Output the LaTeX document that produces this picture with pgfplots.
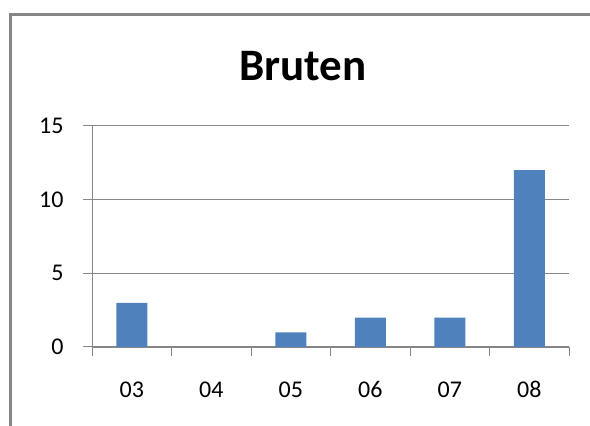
\documentclass[border=0pt]{standalone}
\usepackage{fontspec}
\setmainfont{Carlito}
\usepackage{pgfplots}
\pgfplotsset{compat=1.18}
\definecolor{barblue}{HTML}{4F81BD}
\definecolor{axgray}{HTML}{868686}
\begin{document}
\begin{tikzpicture}[x=1pt,y=1pt]
\useasboundingbox (0,0) rectangle (590,426);
\draw[axgray, line width=3pt] (10.5,0) -- (10.5,411.5) -- (590,411.5);
\node[font=\fontsize{45}{50}\selectfont\bfseries, anchor=center] at (303,359.5) {Bruten};
\begin{axis}[
  at={(92pt,79pt)}, anchor=south west,
  scale only axis, width=477pt, height=221pt,
  xmin=0, xmax=6, ymin=0, ymax=15,
  axis x line*=bottom, axis y line*=left,
  axis line style={axgray, line width=1pt, -},
  x axis line style={line width=2pt},
  xtick={0,1,2,3,4,5,6},
  xticklabels={03,04,05,06,07,08},
  x tick label as interval,
  ytick={0,5,10,15},
  tick align=outside,
  major tick length=9pt,
  tick style={axgray, line width=1pt},
  ymajorgrids,
  grid style={axgray, line width=1pt},
  every tick label/.style={font=\fontsize{24}{28}\selectfont},
  /pgf/number format/assume math mode=true,
  yticklabel style={anchor=east, xshift=-16pt},
  xticklabel style={anchor=north, yshift=-22pt},
  clip=false,
]
\addplot[ybar, bar width=31pt, fill=barblue, draw=none] coordinates {
  (0.5,3) (1.5,0) (2.5,1) (3.5,2) (4.5,2) (5.5,12)
};
\end{axis}
\end{tikzpicture}
\end{document}
